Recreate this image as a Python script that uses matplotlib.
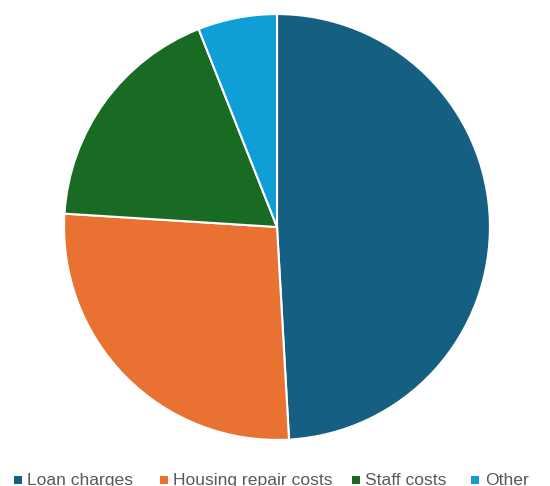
import matplotlib
matplotlib.use("Agg")
import matplotlib.pyplot as plt
from matplotlib.patches import Rectangle

# expenditure shares (%)
categories = ["Loan charges", "Housing repair costs", "Staff costs", "Other"]
shares = [49.1, 26.9, 18.0, 6.0]
colors = ["#156082", "#E97132", "#196B24", "#0F9ED5"]

W, H = 550, 486
fig = plt.figure(figsize=(W / 100, H / 100), dpi=100)

cx, cy, r = 277, 227, 214
ax = fig.add_axes([(cx - r) / W, (H - cy - r) / H, 2 * r / W, 2 * r / H])
ax.pie(shares, colors=colors, startangle=90, counterclock=False, radius=1.0,
       wedgeprops=dict(edgecolor="white", linewidth=1.5))
ax.set_xlim(-1.005, 1.005)
ax.set_ylim(-1.005, 1.005)
ax.set_aspect("equal")
ax.axis("off")

# legend row along the bottom edge
marker_x = [14, 160, 352, 471]
text_x = [27, 173, 365, 485]
ly = 480
for name, col, mx, tx in zip(categories, colors, marker_x, text_x):
    fig.patches.append(Rectangle((mx / W, (H - ly - 4) / H), 8 / W, 8 / H,
                                 transform=fig.transFigure, facecolor=col,
                                 edgecolor="none"))
    fig.text(tx / W, (H - ly) / H, name, fontsize=12.6, family="Liberation Sans",
             color="#595959", va="center", ha="left")

fig.savefig("out.png", dpi=100)
